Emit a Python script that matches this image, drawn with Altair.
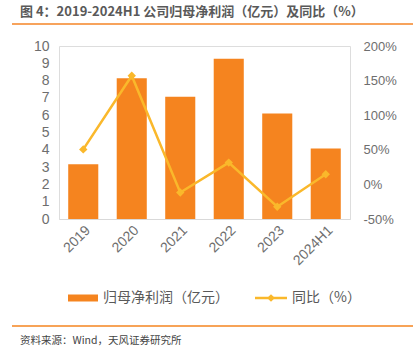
import altair as alt
import pandas as pd

years = ["2019", "2020", "2021", "2022", "2023", "2024H1"]
profit = [3.16, 8.14, 7.07, 9.26, 6.10, 4.07]
yoy = [50.6, 157.0, -11.7, 31.5, -32.3, 14.6]

df = pd.DataFrame({"year": years, "profit": profit, "yoy": yoy})

FONT = "Noto Sans CJK SC"
NUMFONT = "Liberation Sans"
BAR = "#F5841F"
LINE = "#FAB82B"
GRAY = "#595959"
AXGRAY = "#6e6e6e"

OX, OY = 59, 46  # plot origin in page pixels

xenc = alt.X("year:N", sort=years, title=None,
             scale=alt.Scale(paddingInner=0.38, paddingOuter=0.19),
             axis=alt.Axis(labelAngle=-45, labelColor=AXGRAY, labelFontSize=14, labelFont=NUMFONT,
                           ticks=False, domainColor="#d9d9d9", labelPadding=4))

bars = alt.Chart(df).mark_bar(color=BAR).encode(
    x=xenc,
    y=alt.Y("profit:Q", title=None, scale=alt.Scale(domain=[0, 10], nice=False),
            axis=alt.Axis(values=list(range(0, 11)), grid=False, ticks=False, domain=False,
                          labelColor=AXGRAY, labelFontSize=14, labelFont=NUMFONT, labelPadding=10))
)

yoy_axis = alt.Axis(orient="right", values=[-50, 0, 50, 100, 150, 200], grid=False,
                    ticks=False, domain=False, labelExpr="datum.value + '%'",
                    labelColor=AXGRAY, labelFontSize=13, labelFont=NUMFONT, labelPadding=13)

line = alt.Chart(df).mark_line(color=LINE, strokeWidth=2.5).encode(
    x=alt.X("year:N", sort=years),
    y=alt.Y("yoy:Q", title=None, scale=alt.Scale(domain=[-50, 200], nice=False), axis=yoy_axis)
)
pts = alt.Chart(df).mark_point(shape="diamond", filled=True, color=LINE, size=70, opacity=1).encode(
    x=alt.X("year:N", sort=years),
    y=alt.Y("yoy:Q", title=None, scale=alt.Scale(domain=[-50, 200], nice=False), axis=yoy_axis)
)

one = pd.DataFrame({"a": [0]})

def txt(x, y, s, size, color=GRAY, weight="normal"):
    return alt.Chart(one).mark_text(align="left", baseline="middle", font=FONT, fontSize=size,
                                    color=color, fontWeight=weight).encode(
        x=alt.value(x - OX), y=alt.value(y - OY), text=alt.value(s))

def rule(x1, x2, y, color, w):
    return alt.Chart(one).mark_rule(color=color, strokeWidth=w).encode(
        x=alt.value(x1 - OX), x2=alt.value(x2 - OX), y=alt.value(y - OY))

title = txt(20, 12, "图 4：2019-2024H1 公司归母净利润（亿元）及同比（%）", 13, "#595959", "bold")
topline = rule(12, 413, 24, "#F7A35C", 2)
botline = rule(12, 413, 326, "#F5841F", 1.5)
source = txt(20, 341, "资料来源：Wind，天风证券研究所", 10.5, "#444444")

leg_bar = rule(68, 98, 298, BAR, 7)
leg_bar_t = txt(103, 298, "归母净利润（亿元）", 14)
leg_line = rule(255, 287, 298, LINE, 2.5)
leg_pt = alt.Chart(one).mark_point(shape="diamond", filled=True, color=LINE, size=60, opacity=1).encode(
    x=alt.value(271 - OX), y=alt.value(298 - OY))
leg_line_t = txt(292, 298, "同比（%）", 14)

main = alt.layer(bars, line + pts).resolve_scale(y="independent")

chart = alt.layer(main, title, topline, botline, source, leg_bar, leg_bar_t, leg_line, leg_pt, leg_line_t).properties(
    width=291, height=173,
    autosize=alt.AutoSizeParams(type="none"),
    padding={"left": OX, "top": OY, "right": 418 - OX - 291, "bottom": 351 - OY - 173},
).configure_view(stroke=None).configure(background="white").configure_axis(labelOverlap=False)

chart.save("out.html", embed_options={"renderer": "svg", "actions": False})
